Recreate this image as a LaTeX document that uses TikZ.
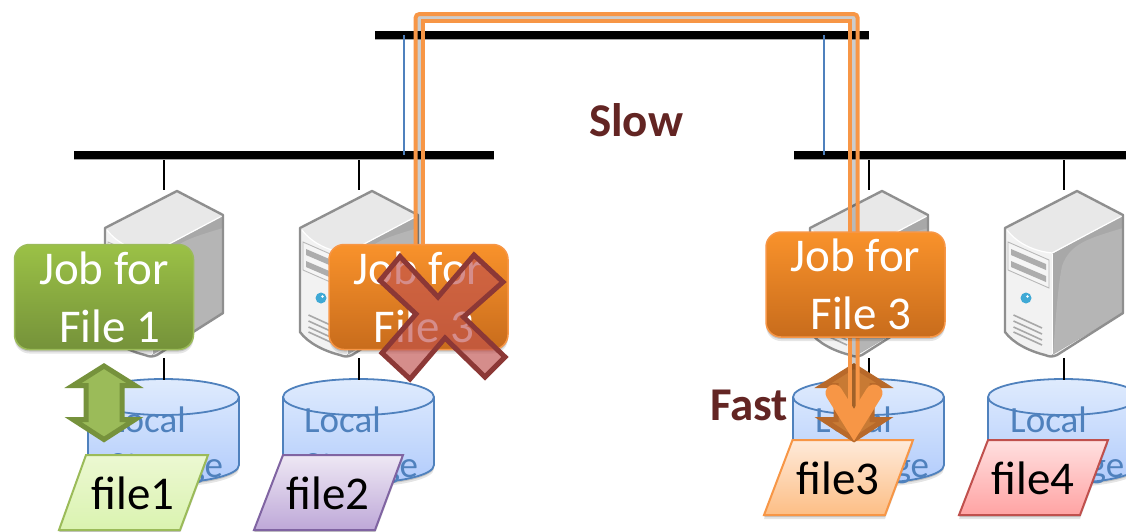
\documentclass[tikz,border=0pt]{standalone}
\usepackage{fontspec}
\setmainfont{Carlito}
\usetikzlibrary{shadows,calc}
\definecolor{stblue}{HTML}{4F81BD}
\definecolor{arrorange}{HTML}{F79646}
\definecolor{slowbrown}{HTML}{632523}
\definecolor{jgborder}{HTML}{9BBB59}
\definecolor{jgtop}{HTML}{9BC146}
\definecolor{jgmid}{HTML}{91B042}
\definecolor{jgbot}{HTML}{75923A}
\definecolor{jotop}{HTML}{F9922B}
\definecolor{jomid}{HTML}{EC8627}
\definecolor{jobot}{HTML}{C86C1C}
\definecolor{sttop}{HTML}{DFEBFD}
\definecolor{stbot}{HTML}{B2CCFC}
\definecolor{fatop}{HTML}{ECF8D2}
\definecolor{fabot}{HTML}{DAF3B0}
\definecolor{fbtop}{HTML}{EEE8F4}
\definecolor{fbbot}{HTML}{BEA8D8}
\definecolor{fbline}{HTML}{8064A2}
\definecolor{fctop}{HTML}{FEEADA}
\definecolor{fcbot}{HTML}{FDBE85}
\definecolor{fdtop}{HTML}{FFE0E0}
\definecolor{fdbot}{HTML}{FFA3A3}
\definecolor{fdline}{HTML}{C0504D}
\definecolor{garrowline}{HTML}{76923C}
\definecolor{barrowline}{HTML}{B8692A}
\definecolor{barrowfill}{HTML}{C87A34}
\definecolor{crossline}{HTML}{8C3836}
\definecolor{ledblue}{HTML}{3FA9D5}
\tikzset{
  softshadow/.style={drop shadow={shadow xshift=0pt,shadow yshift=-2pt,opacity=.14,fill=black},
                     drop shadow={shadow xshift=0pt,shadow yshift=-4pt,opacity=.10,fill=black}},
  bus/.style={line width=8pt,draw=black},
  thinlink/.style={line width=1.6pt,draw=black},
  uplink/.style={line width=1.5pt,draw=stblue},
  jobbox/.style={rounded corners=15pt,minimum width=179pt,minimum height=105pt,inner sep=0pt,
    text=white,align=center,font=\fontsize{47}{58}\selectfont,line width=1.5pt,softshadow},
  jobgreen/.style={jobbox,draw=jgborder,top color=jgtop,middle color=jgmid,bottom color=jgbot},
  joborange/.style={jobbox,draw=arrorange,top color=jotop,middle color=jomid,bottom color=jobot},
  filepoly/.style={line width=2pt,line join=miter,softshadow},
  filelabel/.style={font=\fontsize{47}{54}\selectfont,text=black,inner sep=0pt},
  stlabel/.style={font=\fontsize{37}{45}\selectfont,text=stblue,align=left,anchor=north west,inner sep=0pt},
  speed/.style={font=\fontsize{47}{54}\selectfont\bfseries,text=slowbrown,inner sep=0pt},
  orangepipe/.style={line width=4pt,draw=arrorange,rounded corners=4pt},
  gappipe/.style={line width=8pt,draw=black,draw opacity=.2,rounded corners=4pt},
  server/.pic={
    \fill[white!95!black,rounded corners=1pt] (0,37)--(72,0)--(118,24)--(118,122)--(48,165) .. controls (25,162) and (8,152) .. (0,141)--cycle;
    \fill[white!91!black] (1,38)--(72,1)--(117,24)--(47,62) .. controls (28,60) and (12,52) .. (1,38)--cycle;
    \fill[white!66!black] (47,63)--(118,24)--(118,122)--(47,164)--cycle;
    \fill[white!71!black] (118,37) .. controls (85,47) and (65,52) .. (57,75) .. controls (52,100) and (50,140) .. (48,163)--(118,122)--cycle;
    \draw[white,line width=1.2pt] (2,39) .. controls (12,52) and (28,60) .. (47,62)--(117,25);
    \draw[white,line width=1pt] (47,63)--(47,163);
    \draw[white!72!black,line width=.9pt,fill=white!96!black] (3,51)--(44,69)--(44,97)--(3,79)--cycle;
    \fill[white!68!black] (6,58)--(41,73)--(41,79)--(6,64)--cycle;
    \fill[white!68!black] (6,70)--(41,85)--(41,91)--(6,76)--cycle;
    \fill[ledblue] (21,107) circle[radius=5.5pt];
    \fill[white] (22.5,105.5) circle[radius=1.4pt];
    \foreach \vy/\vz in {124/137,130/143,136/149,141/154}
      \draw[white!66!black,line width=1.6pt] (8.5,\vy)--(37,\vz);
    \draw[white!56!black,line width=2.4pt,line join=round] (0,37)--(72,0)--(118,24)--(118,122)--(52,164)
      .. controls (47,166) and (45,166) .. (40,164)
      .. controls (24,160) and (8,152) .. (0,141)--cycle;
  },
  storage/.pic={
    \draw[stblue,line width=1.8pt,top color=sttop,bottom color=stbot,softshadow]
      (0,18) -- (0,86) arc[start angle=180,end angle=360,x radius=75.5pt,y radius=18pt] -- (151,18)
      arc[start angle=0,end angle=180,x radius=75.5pt,y radius=18pt] -- cycle;
    \draw[stblue,line width=1.8pt] (0,18) arc[start angle=180,end angle=360,x radius=75.5pt,y radius=18pt];
  },
}
\newcommand{\dblarrow}[3]{%
  \draw[draw=#2,fill=#3,line width=5pt,line join=miter,miter limit=10]
   (#1,366)--(#1+31,385.5)--(#1+18,385.5)--(#1+18,419.5)--(#1+31,419.5)--(#1,439.5)
   --(#1-31,419.5)--(#1-18,419.5)--(#1-18,385.5)--(#1-31,385.5)--cycle;}
\begin{document}
\begin{tikzpicture}[x=1pt,y=-1pt]
\path[use as bounding box] (0,0) rectangle (1126,531);
\clip (0,0) rectangle (1126,531);
\fill[white] (0,0) rectangle (1126,531);

% coordinates
\coordinate (bt1) at (375,35);  \coordinate (bt2) at (869,35);
\coordinate (bl1) at (74,155);  \coordinate (bl2) at (494,155);
\coordinate (br1) at (794,155); \coordinate (br2) at (1126,155);
\coordinate (ul1) at (404,35);  \coordinate (ul2) at (404,155);
\coordinate (ur1) at (824,35);  \coordinate (ur2) at (824,155);

% storage
\pic at (88,379) {storage};
\pic at (283,379) {storage};
\pic at (793,379) {storage};
\pic at (988,379) {storage};
\node[stlabel] (st1) at (109,407) {Local\\Storage};
\node[stlabel] (st2) at (304,407) {Local\\Storage};
\node[stlabel] (st3) at (815,407) {Local\\Storage};
\node[stlabel] (st4) at (1010,407) {Local\\Storage};

% servers
\pic at (105,191) {server};
\pic at (300,191) {server};
\pic at (810,191) {server};
\pic at (1005,191) {server};

% links
\foreach \lx in {164,359,869,1064}{
  \draw[thinlink] (\lx,157)--(\lx,190);
  \draw[thinlink] (\lx,358)--(\lx,380);
}

% buses
\draw[black!35,line width=8pt] ($(bt1)+(0,1)$)--($(bt2)+(0,1)$);
\draw[black!35,line width=8pt] ($(bl1)+(0,1)$)--($(bl2)+(0,1)$);
\draw[black!35,line width=8pt] ($(br1)+(0,1)$)--($(br2)+(0,1)$);
\draw[bus] (bt1)--(bt2);
\draw[bus] (bl1)--(bl2);
\draw[bus] (br1)--(br2);
\draw[uplink] (ul1)--(ul2);
\draw[uplink] (ur1)--(ur2);

% files
\draw[filepoly,draw=jgborder,top color=fatop,bottom color=fabot]
  (86,455)--(208,455)--(180,530)--(59,530)--cycle;
\draw[filepoly,draw=fbline,top color=fbtop,bottom color=fbbot]
  (283,455)--(403,455)--(375,530)--(254,530)--cycle;
\draw[filepoly,draw=arrorange,top color=fctop,bottom color=fcbot]
  (792.5,440)--(913,440)--(885,515)--(764,515)--cycle;
\draw[filepoly,draw=fdline,top color=fdtop,bottom color=fdbot]
  (988,440)--(1108,440)--(1080,515)--(959,515)--cycle;
\node[filelabel] (f1) at (133,493) {file1};
\node[filelabel] (f2) at (328,493) {file2};
\node[filelabel] (f3) at (838,478) {file3};
\node[filelabel] (f4) at (1033,478) {file4};

% arrows
\dblarrow{104}{garrowline}{jgborder}
\dblarrow{854}{barrowline}{barrowfill}

% double pipe
\coordinate (pa1) at (419,246); \coordinate (pa2) at (419,17.5);
\coordinate (pa3) at (854,17.5); \coordinate (pa4) at (854,415);
\coordinate (po1) at (415.5,246); \coordinate (po2) at (415.5,14);
\coordinate (po3) at (857.7,14); \coordinate (po4) at (857.7,415);
\coordinate (pi1) at (422.5,246); \coordinate (pi2) at (422.5,21);
\coordinate (pi3) at (850.3,21); \coordinate (pi4) at (850.3,415);
\draw[gappipe] (pa1)--(pa2)--(pa3)--(pa4);
\draw[orangepipe] (po1)--(po2)--(po3)--(po4);
\draw[orangepipe,rounded corners=0pt] (pi1)--(pi2)--(pi3)--(pi4);
\coordinate (vl) at (834,393); \coordinate (vt) at (854,425); \coordinate (vr) at (874,393);
\draw[arrorange,line width=17pt,line cap=round,line join=miter,miter limit=10] (vl)--(vt)--(vr);

% jobs
\node[jobgreen] (job1) at (104,297) {Job for\\\hspace*{11pt}File 1};
\node[joborange] (job2) at (418.5,297) {Job for\\\hspace*{11pt}File 3};
\node[joborange] (job3) at (855.5,284.5) {Job for\\\hspace*{11pt}File 3};

% cross
\draw[draw=crossline,fill=fdline,fill opacity=.65,line width=5pt,line join=miter]
  (400,256.5)--(438,297)--(474,255)--(503,282)--(463.5,317)--(505,357)--(485,377)--(445,338)--(410,379)--(382,353)--(416,314)--(380,280.5)--cycle;

% speed labels
\node[speed] (slow) at (636,120) {Slow};
\node[speed] (fast) at (749,405) {Fast};
\end{tikzpicture}
\end{document}
